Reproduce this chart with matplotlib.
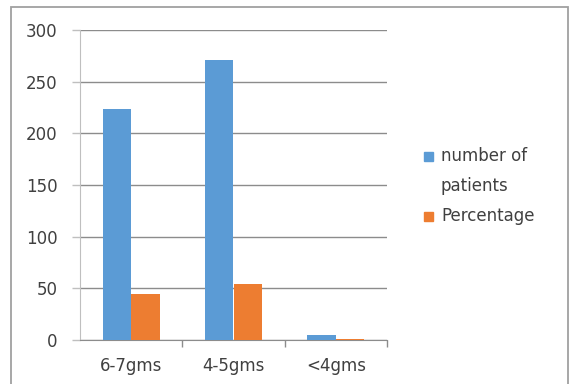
import matplotlib.pyplot as plt
import numpy as np
from matplotlib.patches import Rectangle

# birth weight groups
categories = ["6-7gms", "4-5gms", "<4gms"]
patients = [224, 271, 5]
percentage = [44.8, 54.2, 1.0]
y_ticks = [0, 50, 100, 150, 200, 250, 300]
series_names = ["number of\npatients", "Percentage"]

blue = "#5B9BD5"
orange = "#ED7D31"
grid_col = "#8C8C8C"
text_col = "#404040"

plt.rcParams['font.family'] = ['DejaVu Sans']
fs = 12

W, H = 570, 384
fig = plt.figure(figsize=(W / 100, H / 100), dpi=100)
ax = fig.add_axes([80 / W, 1 - 340 / H, 307 / W, 310 / H])

x = np.arange(len(categories))
w = 0.28
ax.bar(x - w / 2, patients, width=w, color=blue, zorder=3)
ax.bar(x + w / 2, percentage, width=w, color=orange, zorder=3)

ax.set_xlim(-0.5, len(categories) - 0.5)
ax.set_ylim(0, 300)
ax.set_yticks(y_ticks)
ax.yaxis.grid(True, color=grid_col, linewidth=1.0, zorder=0)

for s in ["top", "right"]:
    ax.spines[s].set_visible(False)
ax.spines["left"].set_color("#BFBFBF")
ax.spines["bottom"].set_color(grid_col)

ax.tick_params(axis="y", length=6, width=1, color="#BFBFBF", pad=10,
               labelsize=fs, labelcolor=text_col)
ax.set_xticks(x)
ax.set_xticklabels(categories)
ax.tick_params(axis="x", length=0, pad=12, labelsize=fs, labelcolor=text_col)
ax.set_xticks(np.arange(len(categories)) + 0.5, minor=True)
ax.tick_params(axis="x", which="minor", length=5, width=1, color=grid_col)

# legend drawn by hand so the swatch sits on the first text line
for name, col, ytop in zip(series_names, [blue, orange], [152, 212]):
    fig.add_artist(Rectangle((424 / W, 1 - (ytop + 9) / H), 9 / W, 9 / H,
                             transform=fig.transFigure, color=col))
    fig.text(441 / W, 1 - (ytop - 5) / H, name, ha="left", va="top",
             fontsize=fs, color=text_col, linespacing=1.85)

# outer chart border
fig.add_artist(Rectangle((11 / W, -0.1), 557 / W, 1.1 - 7 / H,
                         transform=fig.transFigure, fill=False,
                         edgecolor="#A0A0A0", linewidth=1.3))

fig.savefig("out.png", dpi=100)
